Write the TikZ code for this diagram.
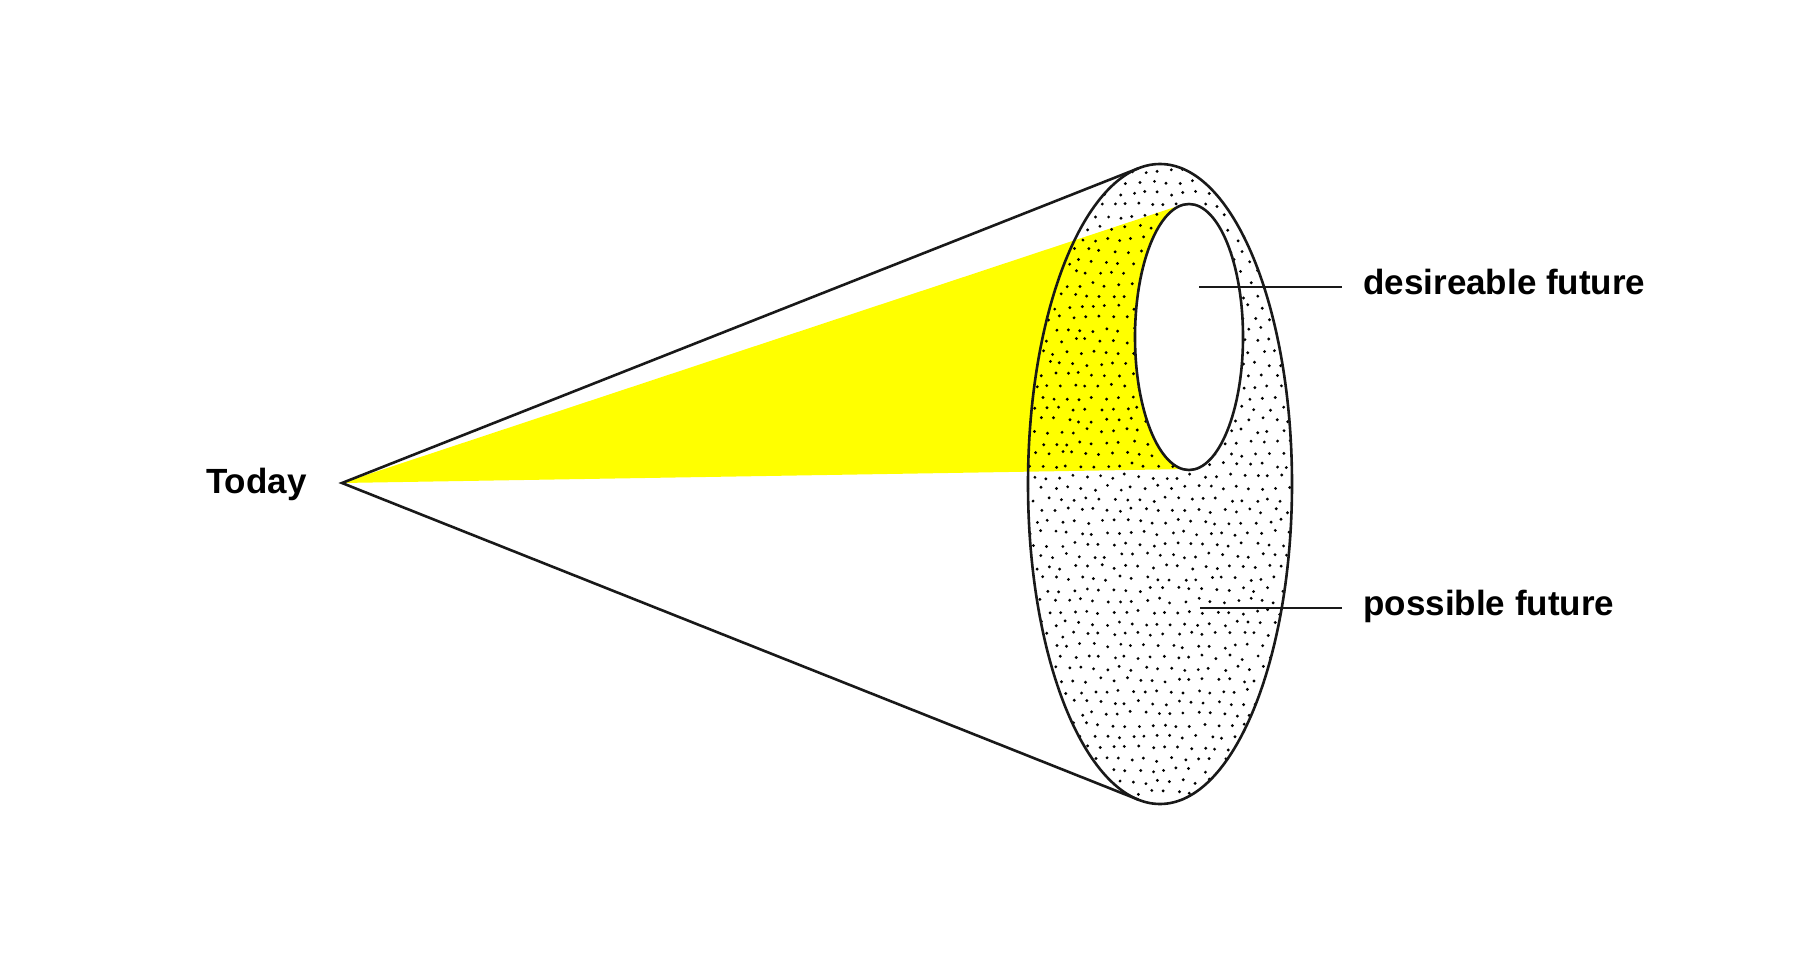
\documentclass[tikz,border=0pt]{standalone}
\usepackage{fontspec}
\setmainfont{Liberation Sans}
\usetikzlibrary{positioning}
\definecolor{hopeyellow}{RGB}{255,255,0}

\begin{document}
\begin{tikzpicture}[x=0.5pt,y=-0.5pt,
		edge/.style={line width=1.3pt, black!90},
		lbl/.style={font=\fontsize{17.5}{20}\selectfont\bfseries, inner sep=0pt},
		tag/.style={lbl, inner xsep=10.5pt}]
		\useasboundingbox (0,0) rectangle (1800,958);
		
		\coordinate (apex) at (342,483);
		\coordinate (far) at (1160,484);
		\coordinate (hope) at (1189,337);
		\path (far) ++(260.7:132 and 320) coordinate (rimtop);
		\path (far) ++(99.3:132 and 320) coordinate (rimbot);
		\coordinate (hopetop) at (1175,207);
		\coordinate (hopebot) at (1190,469);
		
		\fill[hopeyellow] (apex) -- (hopetop) -- (hopebot) -- cycle;
		
		% stipple on the rim
		\begin{scope}
			\clip (far) ellipse [x radius=132, y radius=320];
			\pgfmathsetseed{42}
			\foreach \r in {0,...,57}
			\foreach \c in {0,...,21} {
				\pgfmathsetmacro\px{1022+\c*13+mod(\r,2)*6.5+rand*2.5}
				\pgfmathsetmacro\py{160+\r*11.3+rand*2.5}
				\fill[black] (\px,\py) circle [radius=1.6];
			}
		\end{scope}
		
		\fill[white] (hope) ellipse [x radius=54, y radius=133];
		\draw[edge] (far) ellipse [x radius=132, y radius=320];
		\draw[edge] (hope) ellipse [x radius=54, y radius=133];
		\draw[edge] (rimtop) -- (apex) -- (rimbot);
		
		\node[lbl, anchor=base east] (today) at (307,493) {Today};
		
		\coordinate (wish) at (1199,287);
		\coordinate (maybe) at (1200,608);
		\node[tag, anchor=base west] (desire) at (1342,294) {desireable future};
		\node[tag, anchor=base west] (possible) at (1342,615) {possible future};
		\draw[edge] (wish) -- (wish -| desire.west);
		\draw[edge] (maybe) -- (maybe -| possible.west);
	\end{tikzpicture}
\end{document}
